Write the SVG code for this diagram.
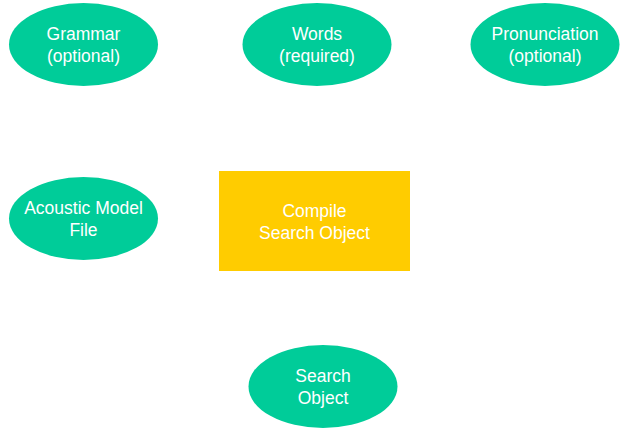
<svg xmlns="http://www.w3.org/2000/svg" width="624" height="433" viewBox="0 0 624 433">
<style>
.n{fill:#00cc99}
.r{fill:#ffcc00}
text{font-family:"Liberation Sans",Arial,sans-serif;font-size:17.5px;fill:#ffffff;text-anchor:middle}
</style>
<rect width="624" height="433" fill="#ffffff"/>
<g id="connectors"></g>
<g id="grammar"><ellipse class="n" cx="83.5" cy="44.5" rx="74.5" ry="41.5"/><text x="83.5" y="40">Grammar</text><text x="83.5" y="62">(optional)</text></g>
<g id="words"><ellipse class="n" cx="317" cy="44.5" rx="74.5" ry="41.5"/><text x="317" y="40">Words</text><text x="317" y="62">(required)</text></g>
<g id="pronunciation"><ellipse class="n" cx="545" cy="44.5" rx="74.5" ry="41.5"/><text x="545" y="40">Pronunciation</text><text x="545" y="62">(optional)</text></g>
<g id="acoustic"><ellipse class="n" cx="83.5" cy="218.5" rx="74.5" ry="41.5"/><text x="83.5" y="214">Acoustic Model</text><text x="83.5" y="236">File</text></g>
<g id="compile"><rect class="r" x="219" y="171" width="191" height="100"/><text x="314.5" y="217">Compile</text><text x="314.5" y="239">Search Object</text></g>
<g id="search"><ellipse class="n" cx="323" cy="386.5" rx="74.5" ry="41.5"/><text x="323" y="382">Search</text><text x="323" y="404">Object</text></g>
</svg>
